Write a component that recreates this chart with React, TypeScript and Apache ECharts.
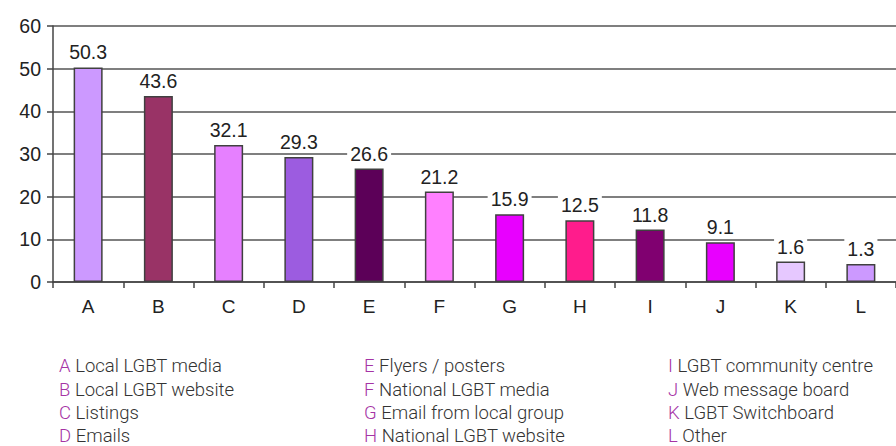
import React, { useEffect, useRef } from "react";
import * as echarts from "echarts";

const categories = ["A", "B", "C", "D", "E", "F", "G", "H", "I", "J", "K", "L"];
// bar heights as drawn in the picture
const barHeights = [50.3, 43.6, 32.1, 29.3, 26.6, 21.2, 15.9, 14.5, 12.3, 9.3, 4.8, 4.2];
// values printed above the bars
const labelValues = ["50.3", "43.6", "32.1", "29.3", "26.6", "21.2", "15.9", "12.5", "11.8", "9.1", "1.6", "1.3"];
const barColors = [
  "#CC99FF", "#993366", "#E680FF", "#9C5CE0", "#5C0058", "#FF80FF",
  "#E800FF", "#FF1C8C", "#800070", "#E800FF", "#E6C8FF", "#CC99FF",
];
const yTicks = { min: 0, max: 60, interval: 10 };
const legendNames = [
  "Local LGBT media", "Local LGBT website", "Listings", "Emails",
  "Flyers / posters", "National LGBT media", "Email from local group", "National LGBT website",
  "LGBT community centre", "Web message board", "LGBT Switchboard", "Other",
];

export default function App() {
  const ref = useRef<HTMLDivElement>(null);
  useEffect(() => {
    if (!ref.current) return;
    const chart = echarts.init(ref.current, null, { renderer: "svg" });
    const colX = [59, 364, 668];
    const rowY = [366, 389.5, 413, 435.5];
    const legendTexts = legendNames.map((name, i) => ({
      type: "text",
      x: colX[Math.floor(i / 4)],
      y: rowY[i % 4],
      style: {
        text: `{k|${categories[i]}} {t|${name}}`,
        verticalAlign: "middle",
        rich: {
          k: { fill: "#A533A5", fontSize: 18.5, fontFamily: "Roboto", fontWeight: 300 },
          t: { fill: "#333333", fontSize: 18.5, fontFamily: "Roboto", fontWeight: 300 },
        },
        fontSize: 18.5,
        fontFamily: "Roboto",
      },
    }));
    chart.setOption({
      animation: false,
      backgroundColor: "#ffffff",
      grid: { left: 53, right: -9, top: 26, bottom: 164, containLabel: false },
      xAxis: {
        type: "category",
        data: categories,
        axisLine: { lineStyle: { color: "#444", width: 1.5 } },
        axisTick: { show: true, length: 6, alignWithLabel: false, lineStyle: { color: "#444", width: 1.5 } },
        axisLabel: { color: "#222", fontSize: 19, fontFamily: "Liberation Sans", margin: 15 },
      },
      yAxis: {
        type: "value",
        min: yTicks.min,
        max: yTicks.max,
        interval: yTicks.interval,
        axisLine: { show: true, lineStyle: { color: "#444", width: 1.5 } },
        axisTick: { show: true, length: 6, lineStyle: { color: "#444", width: 1.5 } },
        axisLabel: { color: "#222", fontSize: 19.5, fontFamily: "Liberation Sans", margin: 12 },
        splitLine: { lineStyle: { color: "#555", width: 1.5 } },
      },
      series: [
        {
          type: "bar",
          barWidth: 29,
          data: barHeights.map((v, i) => ({
            value: v,
            itemStyle: { color: barColors[i], borderColor: "#404040", borderWidth: 1.5 },
          })),
          label: {
            show: true,
            position: "top",
            distance: 5,
            formatter: (p: any) => labelValues[p.dataIndex],
            color: "#222",
            fontSize: 19.5,
            fontFamily: "Liberation Sans",
            backgroundColor: "#ffffff",
            padding: [0, 3, 0, 3],
          },
        },
      ],
      graphic: legendTexts,
    });
    return () => chart.dispose();
  }, []);
  return (
    <div
      ref={ref}
      style={{ position: "fixed", left: 0, top: 0, width: 896, height: 446 }}
    />
  );
}
